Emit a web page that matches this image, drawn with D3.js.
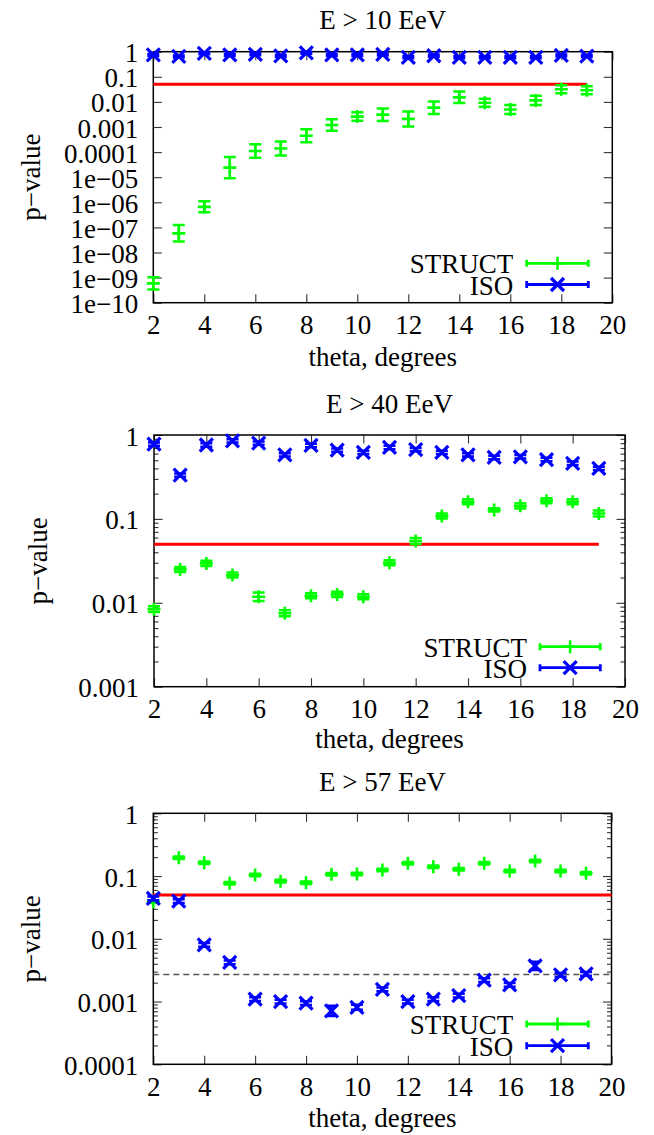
<!DOCTYPE html>
<html><head><meta charset="utf-8">
<script src="https://cdn.jsdelivr.net/npm/d3@7"></script>
<style>
body{margin:0;background:#fff;}
svg text{font-family:"Liberation Serif","Times New Roman",serif;font-size:27px;fill:#000;}
</style></head><body>
<svg id="c" width="654" height="1135"></svg>
<script>
// ---------- data ----------
const theta = [2,3,4,5,6,7,8,9,10,11,12,13,14,15,16,17,18,19];
const xTicks = [2,4,6,8,10,12,14,16,18,20];
const titles = ["E > 10 EeV","E > 40 EeV","E > 57 EeV"];
const seriesNames = ["STRUCT","ISO"];
const xLabel = "theta, degrees";
const yLabel = "p\u2212value";
const threshold = 0.05;
const sigma3 = 0.0027;

// E > 10 EeV
const struct10 = [5.9e-10,5.8e-8,6.6e-7,2.4e-5,1.1e-4,1.4e-4,4.5e-4,1.2e-3,2.6e-3,3.1e-3,2.1e-3,5.9e-3,1.52e-2,9.3e-3,5.0e-3,1.15e-2,3.2e-2,2.9e-2];
const struct10ErrDex = [0.24,0.33,0.22,0.42,0.27,0.28,0.26,0.23,0.17,0.25,0.3,0.25,0.23,0.16,0.18,0.18,0.16,0.16];
const iso10 = [0.74,0.65,0.86,0.74,0.79,0.68,0.9,0.74,0.74,0.78,0.6,0.69,0.6,0.6,0.6,0.6,0.71,0.67];
const iso10ErrDex = [0.04,0.04,0.04,0.04,0.04,0.04,0.04,0.04,0.04,0.04,0.04,0.04,0.04,0.04,0.04,0.04,0.04,0.04];
const yTicks10 = [1,0.1,0.01,0.001,0.0001,1e-5,1e-6,1e-7,1e-8,1e-9,1e-10];
const yLabels10 = ["1","0.1","0.01","0.001","0.0001","1e\u221205","1e\u221206","1e\u221207","1e\u221208","1e\u221209","1e\u221210"];

// E > 40 EeV
const struct40 = [0.0084,0.025,0.0295,0.0214,0.0118,0.0075,0.0121,0.0126,0.0118,0.030,0.0546,0.108,0.160,0.128,0.143,0.165,0.160,0.116];
const struct40ErrDex = [0.035,0.03,0.03,0.03,0.05,0.035,0.03,0.03,0.03,0.03,0.035,0.03,0.03,0.02,0.03,0.03,0.03,0.035];
const iso40 = [0.78,0.333,0.76,0.85,0.80,0.58,0.75,0.66,0.62,0.71,0.67,0.62,0.58,0.54,0.55,0.51,0.46,0.40];
const iso40ErrDex = [0.02,0.02,0.02,0.02,0.02,0.02,0.02,0.02,0.02,0.02,0.02,0.02,0.02,0.02,0.02,0.02,0.02,0.02];
const yTicks40 = [1,0.1,0.01,0.001];
const yLabels40 = ["1","0.1","0.01","0.001"];

// E > 57 EeV
const struct57 = [0.039,0.196,0.163,0.0766,0.104,0.083,0.0785,0.107,0.108,0.125,0.160,0.141,0.128,0.160,0.120,0.174,0.120,0.111];
const struct57ErrDex = [0.02,0.02,0.02,0.02,0.02,0.02,0.02,0.02,0.02,0.02,0.02,0.02,0.02,0.02,0.02,0.02,0.02,0.02];
const iso57 = [0.044,0.040,0.0080,0.0042,0.00109,0.00100,0.00094,0.00071,0.00081,0.00156,0.00100,0.00109,0.00124,0.0022,0.00184,0.0037,0.00265,0.00275];
const iso57ErrDex = [0.03,0.03,0.03,0.03,0.03,0.03,0.03,0.08,0.04,0.03,0.03,0.03,0.03,0.03,0.03,0.065,0.03,0.03];
const yTicks57 = [1,0.1,0.01,0.001,0.0001];
const yLabels57 = ["1","0.1","0.01","0.001","0.0001"];

// ---------- layout ----------
const panels = [
  {title:titles[0], s:struct10, se:struct10ErrDex, iso:iso10, ie:iso10ErrDex, yT:yTicks10, yL:yLabels10, minor:false, redEnd:19, dashed:false,
   L:153.3, R:612.3, T:51.7, B:302.7, titleY:29.3, xLabY:365.5, yLabX:40, legTR:513.3, legX1:526.7, legX2:588.3, legY:[263.3,284.5]},
  {title:titles[1], s:struct40, se:struct40ErrDex, iso:iso40, ie:iso40ErrDex, yT:yTicks40, yL:yLabels40, minor:true, redEnd:19, dashed:false,
   L:154, R:625, T:435, B:686.7, titleY:413.3, xLabY:748, yLabX:47, legTR:527, legX1:540, legX2:600.3, legY:[646.7,667.7]},
  {title:titles[2], s:struct57, se:struct57ErrDex, iso:iso57, ie:iso57ErrDex, yT:yTicks57, yL:yLabels57, minor:true, redEnd:20, dashed:true,
   L:153.3, R:611.5, T:813.3, B:1064.3, titleY:791, xLabY:1126.5, yLabX:40, legTR:513.3, legX1:526.7, legX2:588.3, legY:[1024,1045.7]}
];

const GREEN = "#00ff00", BLUE = "#0000ff", RED = "#ff0000";
const svg = d3.select("#c");

function styleAxis(g){
  g.select(".domain").remove();
  g.attr("font-size",null).attr("font-family",null);
  g.selectAll("line").attr("stroke","#333").attr("stroke-width",1.1);
}
function plusPath(cx,cy,r){ return `M${cx-r},${cy}H${cx+r}M${cx},${cy-r}V${cy+r}`; }
function xPath(cx,cy,r){ return `M${cx-r},${cy-r}L${cx+r},${cy+r}M${cx-r},${cy+r}L${cx+r},${cy-r}`; }

panels.forEach(p=>{
  const x = d3.scaleLinear().domain([xTicks[0], xTicks[xTicks.length-1]]).range([p.L,p.R]);
  const y = d3.scaleLog().domain([p.yT[p.yT.length-1], p.yT[0]]).range([p.B,p.T]);
  const g = svg.append("g");

  if(p.minor){
    const minors = y.ticks().filter(v=>!p.yT.some(t=>Math.abs(Math.log10(v)-Math.log10(t))<1e-6));
    g.append("g").attr("transform",`translate(${p.L},0)`)
      .call(d3.axisLeft(y).tickValues(minors).tickSize(-4.5).tickFormat("")).call(styleAxis);
    g.append("g").attr("transform",`translate(${p.R},0)`)
      .call(d3.axisRight(y).tickValues(minors).tickSize(-4.5).tickFormat("")).call(styleAxis);
  }
  const yl = g.append("g").attr("transform",`translate(${p.L},0)`)
    .call(d3.axisLeft(y).tickValues(p.yT).tickSize(-8.5).tickPadding(15).tickFormat((d,i)=>p.yL[i])).call(styleAxis);
  yl.selectAll("text").attr("dy","0.37em");
  g.append("g").attr("transform",`translate(${p.R},0)`)
    .call(d3.axisRight(y).tickValues(p.yT).tickSize(-8.5).tickFormat("")).call(styleAxis);
  g.append("g").attr("transform",`translate(0,${p.B})`)
    .call(d3.axisBottom(x).tickValues(xTicks).tickSize(-8.5).tickPadding(12.4).tickFormat(d3.format("d"))).call(styleAxis);
  g.append("g").attr("transform",`translate(0,${p.T})`)
    .call(d3.axisTop(x).tickValues(xTicks).tickSize(-8.5).tickFormat("")).call(styleAxis);

  // border
  g.append("rect").attr("x",p.L).attr("y",p.T).attr("width",p.R-p.L).attr("height",p.B-p.T)
    .attr("fill","none").attr("stroke","#000").attr("stroke-width",1.5);

  // titles / labels
  g.append("text").attr("x",(p.L+p.R)/2).attr("y",p.titleY).attr("text-anchor","middle").text(p.title);
  g.append("text").attr("x",(p.L+p.R)/2).attr("y",p.xLabY).attr("text-anchor","middle").text(xLabel);
  g.append("text").attr("transform",`translate(${p.yLabX},${(p.T+p.B)/2}) rotate(-90)`).attr("text-anchor","middle").text(yLabel);

  // threshold line
  g.append("line").attr("x1",x(theta[0])).attr("x2",x(p.redEnd)).attr("y1",y(threshold)).attr("y2",y(threshold))
    .attr("stroke",RED).attr("stroke-width",3);
  if(p.dashed){
    g.append("line").attr("x1",p.L).attr("x2",p.R).attr("y1",y(sigma3)).attr("y2",y(sigma3))
      .attr("stroke","#555").attr("stroke-width",1.3).attr("stroke-dasharray","6,4");
  }

  // series
  function drawSeries(vals, errs, color, marker, mw){
    const sg = g.append("g").attr("stroke",color).attr("fill","none");
    vals.forEach((v,i)=>{
      const cx = x(theta[i]);
      const lo = y(v/Math.pow(10,errs[i])), hi = y(v*Math.pow(10,errs[i]));
      sg.append("path").attr("stroke-width",2.5)
        .attr("d",`M${cx},${lo}V${hi}M${cx-6},${lo}H${cx+6}M${cx-6},${hi}H${cx+6}`);
      sg.append("path").attr("stroke-width",mw).attr("d",marker(cx,y(v),6.5));
    });
  }
  drawSeries(p.s, p.se, GREEN, plusPath, 2.6);
  drawSeries(p.iso, p.ie, BLUE, xPath, 3.2);

  // legend
  const legs = [[GREEN,plusPath,2.6],[BLUE,xPath,3.2]];
  legs.forEach((l,k)=>{
    const ly = p.legY[k];
    g.append("text").attr("x",p.legTR).attr("y",ly+10).attr("text-anchor","end").text(seriesNames[k]);
    const mx = (p.legX1+p.legX2)/2;
    g.append("path").attr("stroke",l[0]).attr("fill","none").attr("stroke-width",2.8)
      .attr("d",`M${p.legX1},${ly}H${p.legX2}M${p.legX1},${ly-3.5}V${ly+3.5}M${p.legX2},${ly-3.5}V${ly+3.5}`);
    g.append("path").attr("stroke",l[0]).attr("fill","none").attr("stroke-width",l[2]).attr("d",l[1](mx,ly,6.5));
  });
});
</script>
</body></html>
